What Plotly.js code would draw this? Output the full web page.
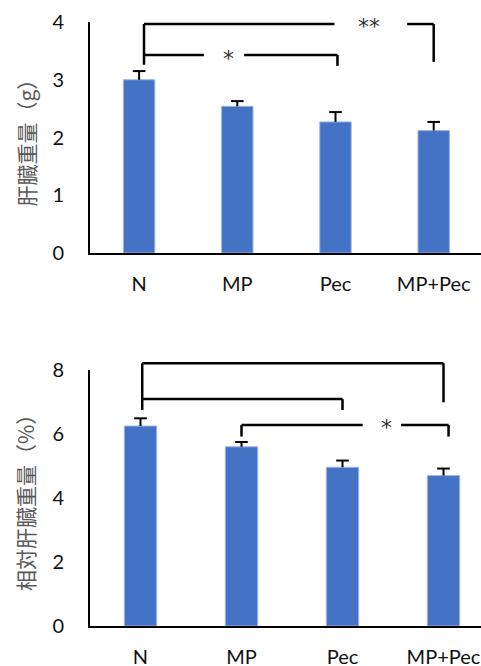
<!DOCTYPE html>
<html>
<head>
<meta charset="utf-8">
<script src="https://cdn.plot.ly/plotly-3.0.1.min.js"></script>
<style>html,body{margin:0;padding:0;background:#fff;}#chart{width:481px;height:666px;}</style>
</head>
<body>
<div id="chart"></div>
<script>
// ---- data ----
var categories = ['N', 'MP', 'Pec', 'MP+Pec'];
var liverWeight = [3.00, 2.54, 2.27, 2.12];        // g
var liverWeightErr = [0.15, 0.09, 0.17, 0.15];
var relLiverWeight = [6.25, 5.60, 4.96, 4.70];     // %
var relLiverWeightErr = [0.24, 0.15, 0.21, 0.22];
var topTicks = [0, 1, 2, 3, 4];
var bottomTicks = [0, 2, 4, 6, 8];
var topTitle = '肝臓重量（g）';
var bottomTitle = '相対肝臓重量（%）';

// ---- styles ----
var barColor = '#4472C4';
var tickFont = {family: 'Lato, "Open Sans", sans-serif', size: 20, color: '#111'};
var cjkFont = {family: '"Noto Sans CJK JP", sans-serif', size: 21, color: '#595959'};

function barTrace(vals, xa, ya) {
  return {type: 'bar', x: categories, y: vals, xaxis: xa, yaxis: ya,
    marker: {color: barColor, line: {color: '#9db5e3', width: 1}}, hoverinfo: 'none'};
}
function stemTrace(vals, errs, xa, ya) {
  var xs = [], ys = [];
  categories.forEach(function (c, i) { xs.push(c, c, null); ys.push(vals[i], vals[i] + errs[i], null); });
  return {type: 'scatter', mode: 'lines', x: xs, y: ys, xaxis: xa, yaxis: ya,
    line: {color: '#000', width: 2}, hoverinfo: 'none', cliponaxis: false};
}
function capTrace(vals, errs, xa, ya) {
  return {type: 'scatter', mode: 'markers', x: categories,
    y: vals.map(function (v, i) { return v + errs[i]; }), xaxis: xa, yaxis: ya,
    marker: {symbol: 'line-ew', size: 9, line: {color: '#000', width: 2}}, hoverinfo: 'none', cliponaxis: false};
}

var data = [
  barTrace(liverWeight, 'x', 'y'), stemTrace(liverWeight, liverWeightErr, 'x', 'y'), capTrace(liverWeight, liverWeightErr, 'x', 'y'),
  barTrace(relLiverWeight, 'x2', 'y2'), stemTrace(relLiverWeight, relLiverWeightErr, 'x2', 'y2'), capTrace(relLiverWeight, relLiverWeightErr, 'x2', 'y2')
];

// brackets: polylines in (category index, value) coordinates
var W = 481, H = 666;
function seg(xr, yr, ymax, pts) {
  var out = [];
  for (var i = 0; i < pts.length - 1; i++) {
    out.push({type: 'line', xref: xr, yref: yr + ' domain',
      x0: pts[i][0], y0: pts[i][1] / ymax, x1: pts[i + 1][0], y1: pts[i + 1][1] / ymax,
      line: {color: '#000', width: 2.5}});
  }
  return out;
}
var shapes = [].concat(
  // top chart
  seg('x', 'y', 4, [[0.05, 3.26], [0.05, 3.965], [1.99, 3.965]]),
  seg('x', 'y', 4, [[2.73, 3.965], [3.0, 3.965], [3.0, 3.31]]),
  seg('x', 'y', 4, [[0.05, 3.43], [0.66, 3.43]]),
  seg('x', 'y', 4, [[1.07, 3.43], [2.02, 3.43], [2.02, 3.24]]),
  // bottom chart
  seg('x2', 'y2', 8, [[0.017, 6.75], [0.017, 8.21], [3.0, 8.21], [3.0, 6.99]]),
  seg('x2', 'y2', 8, [[0.017, 7.09], [2.0, 7.09], [2.0, 6.75]]),
  seg('x2', 'y2', 8, [[1.0, 5.92], [1.0, 6.28], [2.2, 6.28]]),
  seg('x2', 'y2', 8, [[2.58, 6.28], [3.05, 6.28], [3.05, 5.92]])
);

var starFont = {family: '"DejaVu Sans", sans-serif', size: 22, color: '#333'};
var annotations = [
  {xref: 'x', yref: 'y', x: 2.34, y: 3.93, text: '**', showarrow: false, font: starFont, yanchor: 'middle'},
  {xref: 'x', yref: 'y', x: 0.91, y: 3.37, text: '*', showarrow: false, font: starFont, yanchor: 'middle'},
  {xref: 'x2', yref: 'y2', x: 2.44, y: 6.2, text: '*', showarrow: false, font: starFont, yanchor: 'middle'},
  {xref: 'paper', yref: 'paper', x: 25 / W, y: 1 - 137.5 / H, text: topTitle, textangle: -90,
    showarrow: false, font: cjkFont, xanchor: 'center', yanchor: 'middle'},
  {xref: 'paper', yref: 'paper', x: 25 / W, y: 1 - 498 / H, text: bottomTitle, textangle: -90,
    showarrow: false, font: cjkFont, xanchor: 'center', yanchor: 'middle'}
];

function xAxis(range, anchor) {
  return {type: 'category', domain: [90 / W, 1], range: range, anchor: anchor,
    showline: true, linecolor: '#000', linewidth: 2, showgrid: false, zeroline: false,
    ticks: '', ticklabelstandoff: 12, tickfont: tickFont, automargin: false, fixedrange: true};
}
function yAxis(domain, range, ticks, anchor) {
  return {domain: domain, range: range, tickvals: ticks, anchor: anchor,
    showline: true, linecolor: '#000', linewidth: 2, showgrid: false, zeroline: false,
    ticks: '', ticklabelstandoff: 20, tickfont: tickFont, automargin: false, fixedrange: true};
}

var layout = {
  width: W, height: H, margin: {l: 0, r: 0, t: 0, b: 0},
  paper_bgcolor: '#fff', plot_bgcolor: '#fff', showlegend: false,
  bargap: 0.68,
  xaxis: xAxis([-0.5, -0.5 + (W - 90) / 98.2], 'y'),
  yaxis: yAxis([1 - 253 / H, 1 - 22 / H], [0, 4], topTicks, 'x'),
  xaxis2: xAxis([-0.5, -0.5 + (W - 90) / 101], 'y2'),
  yaxis2: yAxis([1 - 626 / H, 1 - 370 / H], [0, 8], bottomTicks, 'x2'),
  shapes: shapes,
  annotations: annotations
};

Plotly.newPlot('chart', data, layout, {staticPlot: true, displayModeBar: false});
</script>
</body>
</html>
